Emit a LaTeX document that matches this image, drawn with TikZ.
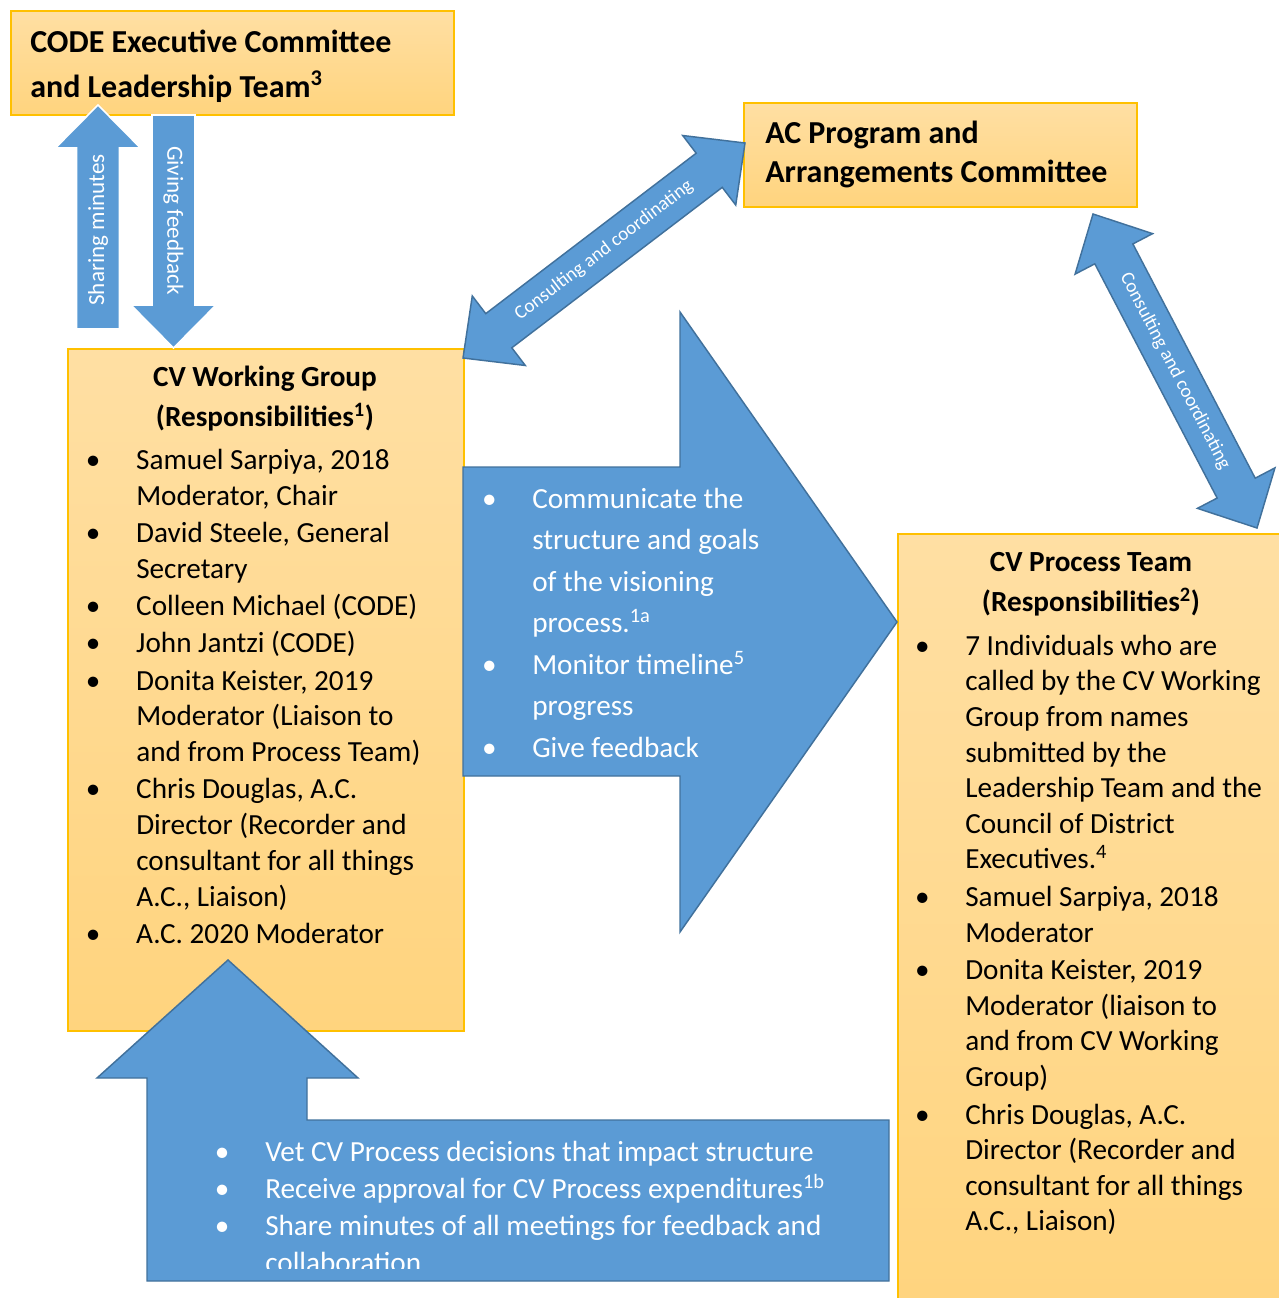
\documentclass[tikz,border=0pt]{standalone}
\usepackage{fontspec}
\setmainfont{Carlito}
\usetikzlibrary{calc, positioning}

\definecolor{BoxEdge}{HTML}{FFC000}
\definecolor{BoxTop}{HTML}{FFDFA3}
\definecolor{BoxBottom}{HTML}{FFD47E}
\definecolor{ArrowFill}{HTML}{5B9BD5}
\definecolor{ArrowEdge}{HTML}{41719C}

% bullet hanging left of the text start
\newcommand{\bul}{\strut\llap{\makebox[0pt][c]{\textbullet}\hspace{32.25pt}}}

% block arrow: style, tail, tip, half shaft, half head, head length
\newcommand{\blockarrow}[6]{%
  \coordinate (hb) at ($(#3)!#6!(#2)$);
  \filldraw[#1] ($(#2)!#4!90:(#3)$) -- ($(hb)!#4!90:(#3)$) -- ($(hb)!#5!90:(#3)$)
    -- (#3) -- ($(hb)!#5!-90:(#3)$) -- ($(hb)!#4!-90:(#3)$) -- ($(#2)!#4!-90:(#3)$) -- cycle;
}

% double block arrow: style, end a, end b, half shaft, half head, head length
\newcommand{\doubleblockarrow}[6]{%
  \coordinate (ha) at ($(#2)!#6!(#3)$);
  \coordinate (hb) at ($(#3)!#6!(#2)$);
  \filldraw[#1] (#2) -- ($(ha)!#5!90:(#3)$) -- ($(ha)!#4!90:(#3)$)
    -- ($(hb)!#4!-90:(#2)$) -- ($(hb)!#5!-90:(#2)$) -- (#3)
    -- ($(hb)!#5!90:(#2)$) -- ($(hb)!#4!90:(#2)$)
    -- ($(ha)!#4!-90:(#3)$) -- ($(ha)!#5!-90:(#3)$) -- cycle;
}

\begin{document}
\begin{tikzpicture}[x=0.75pt, y=-0.75pt,
    box/.style={draw=BoxEdge, line width=1.2pt, top color=BoxTop, bottom color=BoxBottom,
                anchor=north west, inner sep=0pt},
    headtext/.style={font=\fontsize{24}{33.75}\selectfont\bfseries, align=left,
                inner sep=0pt, anchor=north west},
    titletext/.style={font=\fontsize{21.9}{30}\selectfont\bfseries, align=center,
                inner sep=0pt, anchor=north},
    listtext/.style={align=left, inner sep=0pt, anchor=north west},
    whitearrow/.style={fill=ArrowFill, draw=white, line width=1.2pt},
    bluearrow/.style={fill=ArrowFill, draw=ArrowEdge, line width=1.1pt},
    arrowlabel/.style={text=white, inner sep=0pt}
]
    \useasboundingbox (0,0) rectangle (1278,1298);

    % Boxes
    \node[box, minimum width=332.25pt, minimum height=78pt] (code) at (10,10) {};
    \node[box, minimum width=294.75pt, minimum height=78pt] (ac) at (743,102) {};
    \node[box, minimum width=297pt, minimum height=511.5pt] (cvwg) at (67,348) {};
    \node[box, minimum width=300pt, minimum height=585pt] (cvpt) at (897,533) {};

    % Up and down arrows
    \coordinate (smtail) at (98,329);
    \coordinate (smtip) at (98,105);
    \coordinate (gftail) at (173.5,115);
    \coordinate (gftip) at (173.5,348);
    \blockarrow{whitearrow}{smtail}{smtip}{16.1pt}{31.9pt}{32.25pt}
    \blockarrow{whitearrow}{gftail}{gftip}{16.1pt}{31.9pt}{32.25pt}
    \node[arrowlabel, rotate=90, font=\fontsize{17.3}{20}\selectfont] at (98,230) {Sharing minutes};
    \node[arrowlabel, rotate=-90, font=\fontsize{17.3}{20}\selectfont] at (173.5,220.5) {Giving feedback};

    % Consulting arrows
    \coordinate (cwa) at (463,358);
    \coordinate (cwb) at (745,143);
    \coordinate (cpa) at (1093,214);
    \coordinate (cpb) at (1257,528);
    \doubleblockarrow{bluearrow}{cwa}{cwb}{16.1pt}{32.8pt}{33.75pt}
    \doubleblockarrow{bluearrow}{cpa}{cpb}{16.1pt}{32.8pt}{33.75pt}
    \path (cwa) -- node[arrowlabel, sloped, font=\fontsize{14.4}{17}\selectfont] {Consulting and coordinating} (cwb);
    \path (cpa) -- node[arrowlabel, sloped, font=\fontsize{14.4}{17}\selectfont] {Consulting and coordinating} (cpb);

    % Big right arrow
    \filldraw[bluearrow] (463,467) -- (680,467) -- (680,312) -- (897,622)
        -- (680,932) -- (680,776) -- (463,776) -- cycle;

    % Bent up arrow
    \filldraw[bluearrow] (228,960) -- (358,1078) -- (307,1078) -- (307,1120) -- (889,1120)
        -- (889,1281) -- (147,1281) -- (147,1078) -- (97,1078) -- cycle;

    % Box texts
    \node[headtext] (codetext) at ([shift={(20,10.5)}]code.north west)
        {\strut CODE Executive Committee\\and Leadership Team\textsuperscript{3}};
    \node[headtext, font=\fontsize{24}{29.25}\selectfont\bfseries] (actext) at ([shift={(22,13.7)}]ac.north west)
        {\strut AC Program and\\Arrangements Committee};

    \node[titletext] (cvwgtitle) at (265,358.5)
        {\strut CV Working Group\\(Responsibilities\textsuperscript{1})};
    \node[listtext, font=\fontsize{21.9}{26.8}\selectfont] (cvwglist) at (136,444)
        {\bul Samuel Sarpiya, 2018\\Moderator, Chair\\[1.2pt]
         \bul David Steele, General\\Secretary\\[1.2pt]
         \bul Colleen Michael (CODE)\\[1.2pt]
         \bul John Jantzi (CODE)\\[1.2pt]
         \bul Donita Keister, 2019\\Moderator (Liaison to\\and from Process Team)\\[1.2pt]
         \bul Chris Douglas, A.C.\\Director (Recorder and\\consultant for all things\\A.C., Liaison)\\[1.2pt]
         \bul A.C. 2020 Moderator};

    \node[titletext] (cvpttitle) at (1091,543)
        {\strut CV Process Team\\(Responsibilities\textsuperscript{2})};
    \node[listtext, font=\fontsize{21.9}{26.7}\selectfont] (cvptlist) at (965,630)
        {\bul 7 Individuals who are\\called by the CV Working\\Group from names\\submitted by the\\Leadership Team and the\\Council of District\\Executives.\textsuperscript{4}\\[1.5pt]
         \bul Samuel Sarpiya, 2018\\Moderator\\[1.5pt]
         \bul Donita Keister, 2019\\Moderator (liaison to\\and from CV Working\\Group)\\[1.5pt]
         \bul Chris Douglas, A.C.\\Director (Recorder and\\consultant for all things\\A.C., Liaison)};

    % Arrow texts
    \node[listtext, text=white, font=\fontsize{21.9}{31.1}\selectfont] (commtext) at (532,479)
        {\bul Communicate the\\structure and goals\\of the visioning\\process.\textsuperscript{1a}\\
         \bul Monitor timeline\textsuperscript{5}\\progress\\
         \bul Give feedback};
    \begin{scope}
        \clip (147,1120) rectangle (889,1268);
        \node[listtext, text=white, font=\fontsize{21.9}{27.9}\selectfont] (vettext) at (265,1134.7)
            {\bul Vet CV Process decisions that impact structure\\
             \bul Receive approval for CV Process expenditures\textsuperscript{1b}\\
             \bul Share minutes of all meetings for feedback and\\collaboration};
    \end{scope}
\end{tikzpicture}
\end{document}
